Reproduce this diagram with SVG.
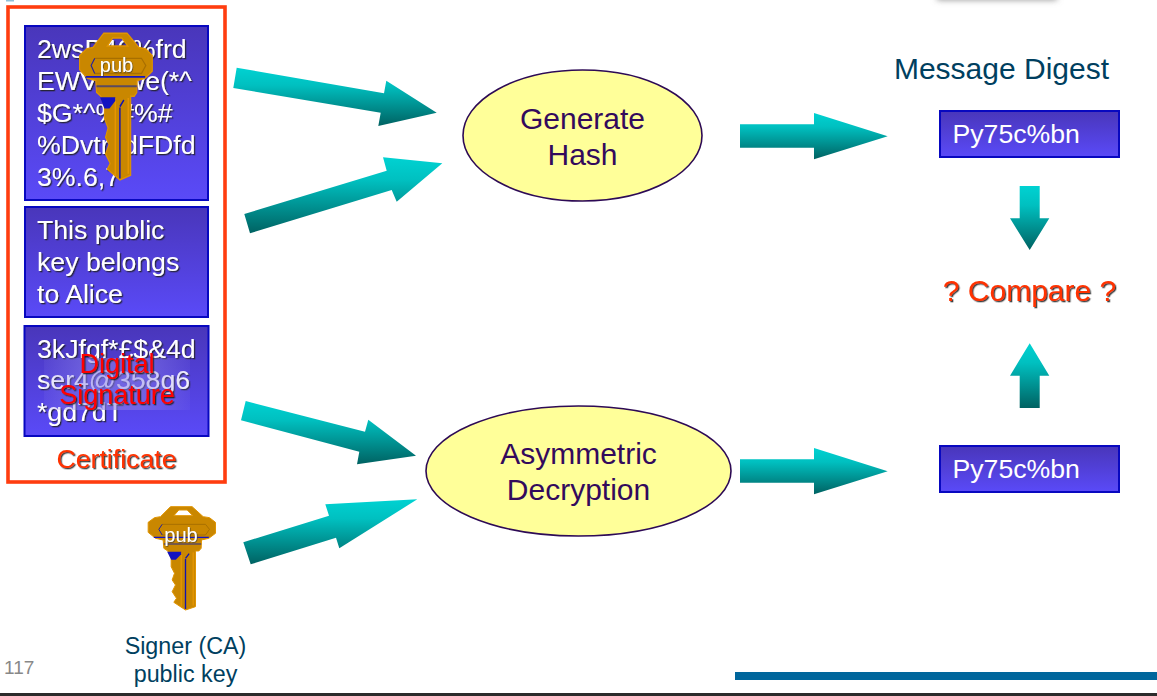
<svg xmlns="http://www.w3.org/2000/svg" xmlns:xlink="http://www.w3.org/1999/xlink" width="1157" height="696" viewBox="0 0 1157 696">
<style>
text{font-family:"Liberation Sans",Arial,sans-serif}
.box{fill:url(#boxFill);stroke:#0808c0;stroke-width:2}
.bt{font-size:26.67px;fill:#fff;filter:url(#shadow)}
.bp{font-size:26.67px;fill:#fff}
.ell{fill:#ffff99;stroke:#2d0a55;stroke-width:1.6}
.et{font-size:30px;fill:#330a5c;text-anchor:middle}
.arr{fill:url(#arrFill)}
.red{fill:#ff3300;filter:url(#shadow)}
.sig{fill:#ff0000;font-size:27px;text-anchor:middle;filter:url(#shadow)}
.lab{fill:#003f5f;text-anchor:middle}
.pub{font-size:20px;fill:#fff;text-anchor:middle;filter:url(#shadowS)}
</style>
<defs>
<linearGradient id="boxFill" x1="0" y1="0" x2="0" y2="1"><stop offset="0" stop-color="#4936ba"/><stop offset="1" stop-color="#5a4af8"/></linearGradient>
<linearGradient id="arrFill" x1="0" y1="0" x2="0" y2="1"><stop offset="0" stop-color="#00d2d2"/><stop offset="0.3" stop-color="#00c0c0"/><stop offset="1" stop-color="#006262"/></linearGradient>
<linearGradient id="veil" x1="0" y1="0" x2="1" y2="0"><stop offset="0" stop-color="#8a80e8" stop-opacity=".12"/><stop offset="0.35" stop-color="#8a80e8" stop-opacity=".6"/><stop offset="0.65" stop-color="#8a80e8" stop-opacity=".55"/><stop offset="1" stop-color="#8a80e8" stop-opacity=".1"/></linearGradient>
<filter id="shadow" x="-10%" y="-20%" width="120%" height="140%"><feDropShadow dx="1.3" dy="1.3" stdDeviation="0.5" flood-color="#1a1a1a" flood-opacity="0.85"/></filter>
<filter id="shadowS" x="-10%" y="-20%" width="120%" height="140%"><feDropShadow dx="0.8" dy="0.8" stdDeviation="0.4" flood-color="#333" flood-opacity="0.7"/></filter>
<filter id="blur" x="-20%" y="-200%" width="140%" height="500%"><feGaussianBlur stdDeviation="3"/></filter>
<g id="keyShape">
<path fill="#c98700" stroke="#e09400" stroke-width="3" fill-rule="evenodd" d="M120 35H185L218 65L237 68L255 82V115L235 130L213 135L212 160L205 168H195V335L165 345L130 322L138 310L125 290L135 270L125 255L132 235L122 215V190L112 168L100 160L98 135L75 130L53 112V82L72 68L90 65ZM130 62H187L170 45H145Z"/>
<path fill="none" stroke="#a86f00" stroke-width="3" d="M95 88H225L237 103L225 120H95"/>
<path fill="none" stroke="#2020a0" stroke-width="3" d="M95 88L85 103L95 120"/>
<path fill="none" stroke="#1515c0" stroke-width="4" d="M70 127H235"/>
<path fill="none" stroke="#5a4a60" stroke-width="4" d="M100 147H212"/>
<path fill="none" stroke="#f09a00" stroke-width="3" d="M152 172V335M188 172V332"/>
<path fill="#1212c0" d="M110 170H152V178L136 194H122Z"/>
<path fill="none" stroke="#1212b0" stroke-width="4" d="M165 192V342M165 190L176 176"/>
</g>
</defs>
<rect width="1157" height="696" fill="#fff"/>
<rect x="937" y="-8" width="120" height="8" fill="#999" filter="url(#blur)"/>
<rect x="6" y="0" width="8" height="1.5" fill="#8fc0d8"/>
<g id="connectors">
<polygon class="arr" points="236.7,67.7 233.3,88 380.7,112.7 378.3,126 436.7,112.7 386.3,80.7 384,93.3"/>
<polygon class="arr" points="244.3,214 250,233.3 391.7,190 396.7,201.7 442.3,163.3 383,157.3 386.7,170.7"/>
<polygon class="arr" points="245.7,401 241,420.3 359.3,451.7 357,464.3 416,455.7 368.3,419.7 365,431.7"/>
<polygon class="arr" points="243.3,542.3 250.7,564.3 336,537.7 339.3,548.3 417.3,499.3 325.3,504.3 329,515.7"/>
<polygon class="arr" points="740,124.3 814,124.3 814,113 887.7,136.3 814,159.3 814,147.7 740,147.7"/>
<polygon class="arr" points="740,459.3 814,459.3 814,448 887.7,471.3 814,494.3 814,482.7 740,482.7"/>
<polygon class="arr" points="1019.7,186 1039.7,186 1039.7,218.3 1049.3,218.3 1029.7,250 1010,218.3 1019.7,218.3"/>
<polygon class="arr" points="1029.7,343.3 1049.3,375.7 1039.7,375.7 1039.7,408 1019.7,408 1019.7,375.7 1010,375.7"/>
</g>
<g id="certificate">
<rect x="8" y="7" width="217" height="475" fill="#fff" stroke="#ff3d0f" stroke-width="3.600"/>
<text class="red" x="116.500" y="468" font-size="26.67" text-anchor="middle">Certificate</text>
</g>
<g id="hash-box">
<rect class="box" x="25" y="26" width="183" height="174"/>
<text class="bt" x="37" y="58">2wsP46%frd</text>
<text class="bt" x="37" y="90">EWVeewe(*^</text>
<text class="bt" x="37" y="122">$G*^%#%#</text>
<text class="bt" x="37" y="154">%DvtrfidFDfd</text>
<text class="bt" x="37" y="186">3%.6,7</text>
</g>
<g id="key-certificate">
<use xlink:href="#keyShape" href="#keyShape" transform="translate(60.500,16.750) scale(.36,.473)"/>
<text class="pub" x="116.500" y="72">pub</text>
</g>
<g id="statement-box">
<rect class="box" x="25" y="207" width="183" height="110"/>
<text class="bt" x="37" y="239">This public</text>
<text class="bt" x="37" y="271">key belongs</text>
<text class="bt" x="37" y="303">to Alice</text>
</g>
<g id="signature-box">
<rect class="box" x="24.500" y="326" width="184" height="110"/>
<text class="bt" x="37" y="358">3kJfgf*£$&amp;4d</text>
<text class="bt" x="37" y="389">ser4@358g6</text>
<text class="bt" x="37" y="421">*gd7dT</text>
<rect x="44" y="358" width="146" height="52" fill="url(#veil)"/>
<text class="sig" x="117" y="373">Digital</text>
<text class="sig" x="117" y="404">Signature</text>
</g>
<g id="key-signer">
<use xlink:href="#keyShape" href="#keyShape" transform="translate(130.500,495) scale(.3333)"/>
<text class="pub" x="181" y="542">pub</text>
</g>
<g id="signer-label">
<text class="lab" x="185.500" y="654" font-size="23.300">Signer (CA)</text>
<text class="lab" x="185.500" y="682" font-size="23.300">public key</text>
</g>
<g id="generate-hash">
<ellipse class="ell" cx="582.500" cy="135.500" rx="119.500" ry="65.500"/>
<text class="et" x="582.500" y="129">Generate</text>
<text class="et" x="582.500" y="165">Hash</text>
</g>
<g id="asymmetric-decryption">
<ellipse class="ell" cx="578.500" cy="471" rx="152.500" ry="65"/>
<text class="et" x="578.500" y="464">Asymmetric</text>
<text class="et" x="578.500" y="500">Decryption</text>
</g>
<g id="message-digest">
<text class="lab" x="1001.500" y="79" font-size="30">Message Digest</text>
</g>
<g id="digest-top">
<rect class="box" x="940" y="111" width="179" height="46"/>
<text class="bp" x="952.500" y="143">Py75c%bn</text>
</g>
<g id="compare">
<text class="red" x="1029.500" y="301" font-size="30" text-anchor="middle">? Compare ?</text>
</g>
<g id="digest-bottom">
<rect class="box" x="940" y="446" width="179" height="46"/>
<text class="bp" x="952.500" y="478">Py75c%bn</text>
</g>
<g id="footer">
<text x="4" y="674" font-size="19" fill="#888">117</text>
<rect x="735" y="672" width="422" height="8" fill="#00669c"/>
<rect x="0" y="693" width="1157" height="3" fill="#2b2b2b"/>
</g>
</svg>
